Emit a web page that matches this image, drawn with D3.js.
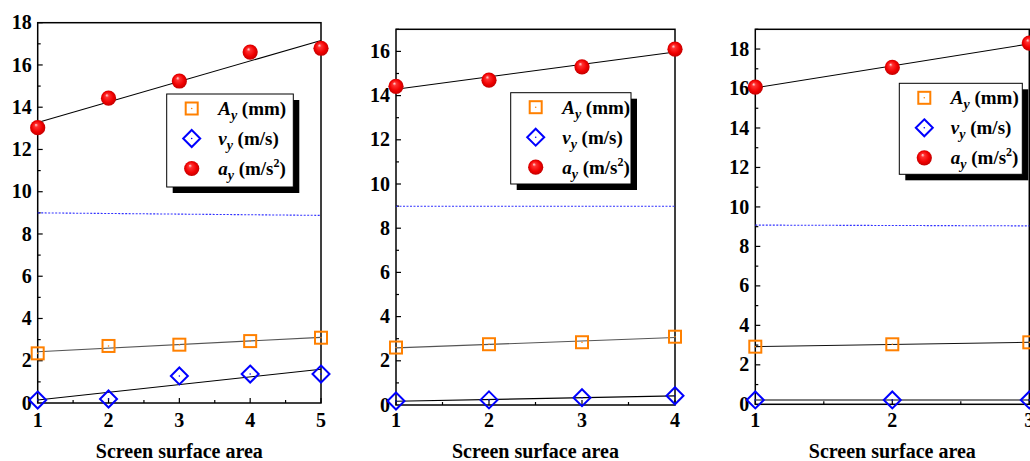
<!DOCTYPE html>
<html>
<head>
<meta charset="utf-8">
<script src="https://cdn.jsdelivr.net/npm/d3@7/dist/d3.min.js"></script>
<style>
  html, body { margin: 0; padding: 0; background: #fff; }
  svg { display: block; }
</style>
</head>
<body>
<svg id="chart" width="1030" height="461"></svg>
<script>
// ---------- DATA ----------
const xCats1 = [1, 2, 3, 4, 5];
const Ay1 = [2.35, 2.70, 2.76, 2.93, 3.09];
const vy1 = [0.14, 0.19, 1.28, 1.37, 1.37];
const ay1 = [13.03, 14.43, 15.24, 16.61, 16.79];
const refLine1 = [9.0, 8.88];

const xCats2 = [1, 2, 3, 4];
const Ay2 = [2.60, 2.75, 2.84, 3.09];
const vy2 = [0.18, 0.23, 0.33, 0.42];
const ay2 = [14.42, 14.70, 15.30, 16.10];
const refLine2 = [8.99, 8.99];

const xCats3 = [1, 2, 3];
const Ay3 = [2.92, 3.04, 3.14];
const vy3 = [0.22, 0.22, 0.22];
const ay3 = [16.07, 17.07, 18.30];
const refLine3 = [9.08, 9.04];

const yMax = [18, 17, 19];
const xTitle = "Screen surface area";

const FONT = '"Liberation Serif", "Times New Roman", serif';

// ---------- LAYOUT ----------
const panels = [
  { x: xCats1, A: Ay1, v: vy1, a: ay1, ref: refLine1, ymax: yMax[0],
    left: 37.7, right: 321, top: 22.7, bottom: 403,
    leg: { x: 166.7, y: 94, w: 126.6, h: 93 }, aLineColor: "#555" },
  { x: xCats2, A: Ay2, v: vy2, a: ay2, ref: refLine2, ymax: yMax[1],
    left: 396, right: 675, top: 29.3, bottom: 405,
    leg: { x: 510.7, y: 92.7, w: 120.3, h: 91.3 }, aLineColor: "#555" },
  { x: xCats3, A: Ay3, v: vy3, a: ay3, ref: refLine3, ymax: yMax[2],
    left: 755.3, right: 1029.3, top: 29.3, bottom: 404.3,
    leg: { x: 899.3, y: 83.3, w: 123, h: 91 }, aLineColor: "#111" }
];

const svg = d3.select("#chart");
const defs = svg.append("defs");
const grad = defs.append("radialGradient").attr("id", "sphere")
  .attr("cx", "50%").attr("cy", "50%").attr("r", "55%")
  .attr("fx", "38%").attr("fy", "30%");
grad.append("stop").attr("offset", "0%").attr("stop-color", "#ffe0e0");
grad.append("stop").attr("offset", "22%").attr("stop-color", "#ff3030");
grad.append("stop").attr("offset", "65%").attr("stop-color", "#f00000");
grad.append("stop").attr("offset", "100%").attr("stop-color", "#b80000");

const ORANGE = "#ff8000", BLUE = "#0000ff";

function txt(g) {
  return g.append("text").style("font-family", FONT).style("font-weight", "bold");
}
function drawSquare(g, cx, cy) {
  g.append("rect").attr("x", cx - 6).attr("y", cy - 6).attr("width", 12).attr("height", 12)
    .attr("fill", "none").attr("stroke", ORANGE).attr("stroke-width", 2);
  g.append("circle").attr("cx", cx).attr("cy", cy).attr("r", 0.8).attr("fill", ORANGE);
}
function drawDiamond(g, cx, cy) {
  const r = 8.5;
  g.append("path").attr("d", `M${cx},${cy - r}L${cx + r},${cy}L${cx},${cy + r}L${cx - r},${cy}Z`)
    .attr("fill", "none").attr("stroke", BLUE).attr("stroke-width", 2);
  g.append("circle").attr("cx", cx).attr("cy", cy).attr("r", 0.8).attr("fill", BLUE);
}
function drawSphere(g, cx, cy) {
  g.append("circle").attr("cx", cx).attr("cy", cy).attr("r", 7.6).attr("fill", "url(#sphere)");
}

function fit(xs, ys) {
  const mx = d3.mean(xs), my = d3.mean(ys);
  const sxy = d3.sum(xs, (x, i) => (x - mx) * (ys[i] - my));
  const sxx = d3.sum(xs, x => (x - mx) * (x - mx));
  const b = sxy / sxx, a = my - b * mx;
  return x => a + b * x;
}

panels.forEach(p => {
  const xs = d3.scaleLinear().domain([p.x[0], p.x[p.x.length - 1]]).range([p.left, p.right]);
  const ys = d3.scaleLinear().domain([0, p.ymax]).range([p.bottom, p.top]);
  const g = svg.append("g");

  // frame
  g.append("rect").attr("x", p.left).attr("y", p.top)
    .attr("width", p.right - p.left).attr("height", p.bottom - p.top)
    .attr("fill", "none").attr("stroke", "#000").attr("stroke-width", 1.5);

  // y ticks (inward)
  d3.range(1, p.ymax + 0.001, 1).forEach(v => {
    const major = v % 2 === 0;
    g.append("line").attr("x1", p.left).attr("x2", p.left + (major ? 5 : 3))
      .attr("y1", ys(v)).attr("y2", ys(v)).attr("stroke", "#000").attr("stroke-width", 1.2);
  });
  d3.range(0, p.ymax + 0.001, 2).forEach(v => {
    txt(g).attr("x", p.left - 6).attr("y", ys(v)).attr("dy", "0.33em")
      .attr("text-anchor", "end").attr("font-size", 20).text(v);
  });

  // x ticks (inward)
  const x0 = p.x[0], x1 = p.x[p.x.length - 1];
  d3.range(x0, x1 + 0.001, 0.5).forEach(v => {
    const major = Number.isInteger(v);
    g.append("line").attr("x1", xs(v)).attr("x2", xs(v))
      .attr("y1", p.bottom).attr("y2", p.bottom - (major ? 5 : 3))
      .attr("stroke", "#000").attr("stroke-width", 1.2);
  });
  p.x.forEach(v => {
    txt(g).attr("x", xs(v)).attr("y", 426.5).attr("text-anchor", "middle")
      .attr("font-size", 20).text(v);
  });

  // x title
  txt(g).attr("x", (p.left + p.right) / 2).attr("y", 458)
    .attr("text-anchor", "middle").attr("font-size", 20).text(xTitle);

  // reference dotted line
  g.append("line").attr("x1", xs(x0)).attr("x2", xs(x1))
    .attr("y1", ys(p.ref[0])).attr("y2", ys(p.ref[1]))
    .attr("stroke", "#3030ff").attr("stroke-width", 1.1).attr("stroke-dasharray", "2,1.5");

  // fit lines
  const line = d3.line().x(d => xs(d[0])).y(d => ys(d[1]));
  const fa = fit(p.x, p.a), fA = fit(p.x, p.A), fv = fit(p.x, p.v);
  g.append("path").attr("d", line([[x0, fa(x0)], [x1, fa(x1)]]))
    .attr("fill", "none").attr("stroke", "#000").attr("stroke-width", 1.1);
  g.append("path").attr("d", line([[x0, fA(x0)], [x1, fA(x1)]]))
    .attr("fill", "none").attr("stroke", p.aLineColor).attr("stroke-width", 1.1);
  g.append("path").attr("d", line([[x0, fv(x0)], [x1, fv(x1)]]))
    .attr("fill", "none").attr("stroke", "#000").attr("stroke-width", 1.1);

  // markers
  p.x.forEach((xv, i) => drawSquare(g, xs(xv), ys(p.A[i])));
  p.x.forEach((xv, i) => drawDiamond(g, xs(xv), ys(p.v[i])));
  p.x.forEach((xv, i) => drawSphere(g, xs(xv), ys(p.a[i])));

  // legend
  const L = p.leg;
  g.append("rect").attr("x", L.x + 6).attr("y", L.y + 6).attr("width", L.w).attr("height", L.h)
    .attr("fill", "#000");
  g.append("rect").attr("x", L.x).attr("y", L.y).attr("width", L.w).attr("height", L.h)
    .attr("fill", "#fff").attr("stroke", "#000").attr("stroke-width", 1);
  const mx = L.x + 25, tx = L.x + 51.5;
  const rows = [L.y + 14.5, L.y + 44.5, L.y + 74.5];
  drawSquare(g, mx, rows[0]);
  drawDiamond(g, mx, rows[1]);
  drawSphere(g, mx, rows[2]);

  const labels = [
    { sym: "A", unit: " (mm)", sup: null, close: "" },
    { sym: "v", unit: " (m/s", sup: null, close: ")" },
    { sym: "a", unit: " (m/s", sup: "2", close: ")" }
  ];
  labels.forEach((lab, i) => {
    const t = txt(g).attr("x", tx).attr("y", rows[i] + 6.5).attr("font-size", 19);
    t.append("tspan").attr("font-style", "italic").text(lab.sym);
    t.append("tspan").attr("font-style", "italic").attr("font-size", 14).attr("dy", 5).text("y");
    t.append("tspan").attr("dy", -5).text(lab.unit);
    if (lab.sup) {
      t.append("tspan").attr("font-size", 12).attr("dy", -8).text(lab.sup);
      t.append("tspan").attr("dy", 8).text(lab.close);
    } else if (lab.close) {
      t.append("tspan").text(lab.close);
    }
  });
});
</script>
</body>
</html>
